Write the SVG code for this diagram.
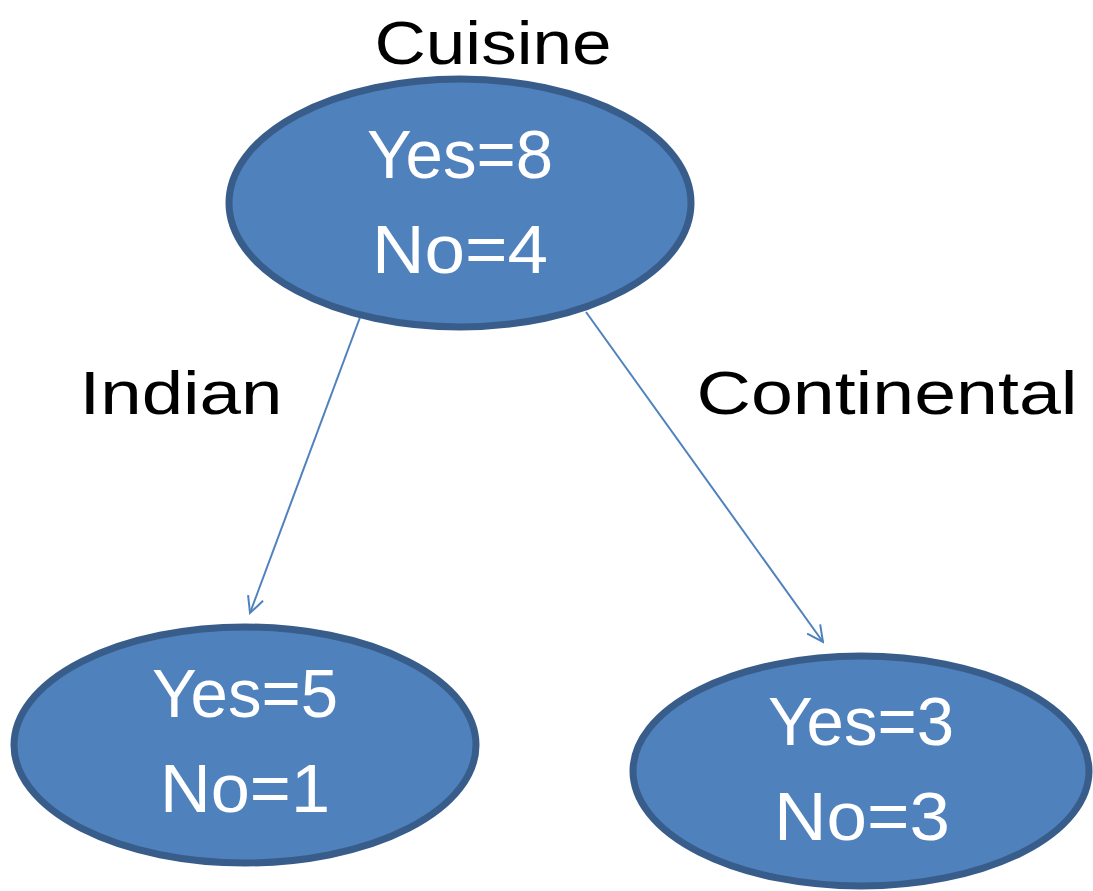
<svg xmlns="http://www.w3.org/2000/svg" width="1093" height="891" viewBox="0 0 1093 891">
  <defs>
    <style>
      .node { fill: #4F81BD; stroke: #385D8A; stroke-width: 7; }
      .val { fill: #FFFFFF; font-family: "Liberation Sans", Arial, sans-serif; font-size: 68px; text-anchor: middle; }
      .lbl { fill: #000000; font-family: "Liberation Sans", Arial, sans-serif; font-size: 62px; text-anchor: middle; }
      .edge { stroke: #4F81BD; stroke-width: 2; fill: none; }
    </style>
    <marker id="open-arrow" viewBox="0 0 20 20" refX="18" refY="10" markerWidth="20" markerHeight="20" markerUnits="userSpaceOnUse" orient="auto">
      <path d="M2,2 L18,10 L2,18" fill="none" stroke="#4F81BD" stroke-width="2"/>
    </marker>
  </defs>
  <rect width="1093" height="891" fill="#FFFFFF"/>

  <!-- connectors -->
  <g id="connectors">
    <line class="edge" x1="362" y1="312" x2="250" y2="613" marker-end="url(#open-arrow)"/>
    <line class="edge" x1="586" y1="312" x2="823" y2="642" marker-end="url(#open-arrow)"/>
  </g>

  <!-- branch labels -->
  <text class="lbl" x="181" y="414" textLength="203" lengthAdjust="spacingAndGlyphs">Indian</text>
  <text class="lbl" x="887" y="414" textLength="381" lengthAdjust="spacingAndGlyphs">Continental</text>

  <g id="root">
    <text class="lbl" x="493" y="64" textLength="237" lengthAdjust="spacingAndGlyphs">Cuisine</text>
    <ellipse class="node" cx="460" cy="203" rx="231" ry="124"/>
    <text class="val" x="460" y="178" textLength="186" lengthAdjust="spacingAndGlyphs">Yes=8</text>
    <text class="val" x="460" y="273" textLength="176" lengthAdjust="spacingAndGlyphs">No=4</text>
  </g>

  <g id="indian">
    <ellipse class="node" cx="245" cy="745" rx="231" ry="118"/>
    <text class="val" x="245" y="717" textLength="186" lengthAdjust="spacingAndGlyphs">Yes=5</text>
    <text class="val" x="245" y="812" textLength="170" lengthAdjust="spacingAndGlyphs">No=1</text>
  </g>

  <g id="continental">
    <ellipse class="node" cx="861" cy="771" rx="228" ry="115"/>
    <text class="val" x="861" y="745" textLength="186" lengthAdjust="spacingAndGlyphs">Yes=3</text>
    <text class="val" x="862" y="840" textLength="176" lengthAdjust="spacingAndGlyphs">No=3</text>
  </g>
</svg>
